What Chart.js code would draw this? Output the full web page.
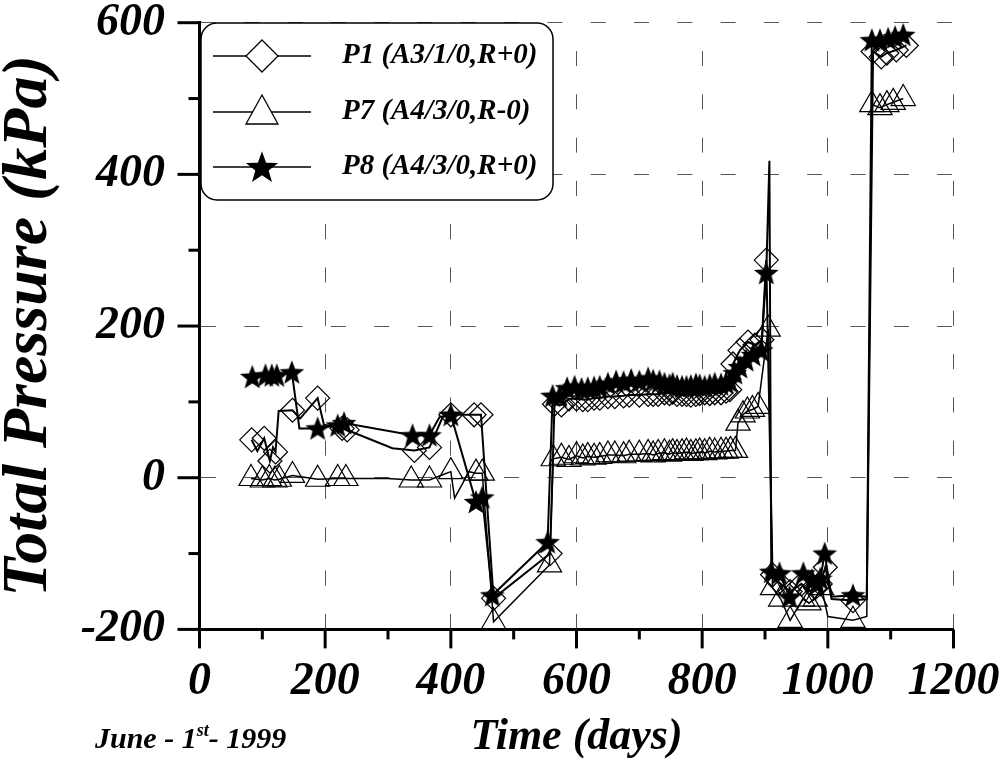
<!DOCTYPE html>
<html><head><meta charset="utf-8">
<script src="https://cdn.jsdelivr.net/npm/chart.js@4.4.0/dist/chart.umd.min.js"></script>
<style>html,body{margin:0;padding:0;background:#fff;}#c{display:block;}</style>
</head><body>
<canvas id="c" width="1005" height="769"></canvas>
<script>
// ---- data (days since June 1st 1999, total pressure kPa) ----
const P1_days = [83,92,103,112,117,121,126,148,160,188,198,227,235,307,342,366,387,400,437,448,468,558,565,576,588,600,610,618,628,637,650,661,675,684,700,714,722,730,740,748,753,760,768,775,782,790,796,804,812,820,830,838,844,849,860,873,884,895,902,912,922,940,958,970,980,988,996,1006,1040,1062,1072,1085,1094,1109,1125];
const P1_kpa  = [50,35,52,22,40,34,88,89,78,105,70,65,63,39,36,40,80,83,83,83,-159,-100,97,96,104,104,103,103,105,105,107,107,108,109,109,110,110,110,112,111,113,110,110,110,109,110,111,112,111,112,112,114,116,150,168,179,175,182,287,-128,-138,-150,-140,-150,-145,-140,-118,-160,-162,-160,562,555,560,564,570];
const P1_noMarker = [1,4,6,8,10,13,16,67,69];

const P7_days = [82,100,111,120,127,148,188,220,233,300,337,366,390,400,406,429,440,450,468,557,563,576,588,600,610,618,628,637,650,661,675,684,700,714,722,730,740,748,753,760,768,775,782,790,796,804,812,820,830,838,845,853,857,865,872,880,889,905,912,925,940,960,970,980,990,1000,1040,1062,1070,1083,1094,1104,1120];
const P7_kpa  = [-1,-3,-1,-3,-2,3,-2,-1,-1,-1,-3,-3,5,8,-27,8,6,6,-190,-115,25,27,24,29,26,28,27,28,30,30,29,31,31,32,30,32,33,31,33,32,33,34,32,33,34,33,35,34,35,35,36,36,72,83,88,90,94,196,-145,-160,-188,-160,-165,-160,-145,-183,-188,-183,492,488,492,495,500];
const P7_noMarker = [9,12,14,15,65,67];

const P8_days = [84,105,115,123,147,159,188,220,230,339,366,382,400,440,450,466,554,562,573,585,597,608,618,628,637,650,663,675,687,700,714,722,732,740,748,753,760,768,775,782,790,796,804,812,820,830,838,844,852,860,870,881,894,902,907,910,923,939,961,975,983,988,995,1006,1040,1062,1070,1083,1096,1107,1120];
const P8_kpa  = [133,135,135,135,139,65,65,69,72,56,56,80,83,-32,-26,-155,-85,108,107,118,120,117,118,119,120,124,127,126,129,127,131,128,127,124,122,124,121,120,120,121,123,122,120,122,124,123,125,127,138,146,155,162,168,270,418,-124,-126,-157,-126,-135,-140,-133,-100,-157,-155,-157,577,577,579,581,584];
const P8_noMarker = [5,11,54,63,65];

const seriesLabels = ['P1 (A3/1/0,R+0)','P7 (A4/3/0,R-0)','P8 (A4/3/0,R+0)'];
const xTitle = 'Time (days)';
const yTitle = 'Total Pressure (kPa)';
const xTicksStep = 200, yTicksStep = 200;

const FONT = "'Liberation Serif','Times New Roman',serif";

function makeStar(R, r) {
  const s = Math.ceil(R * 2 + 2);
  const c = document.createElement('canvas');
  c.width = s; c.height = s;
  const g = c.getContext('2d');
  g.translate(s / 2, s / 2 + R * 0.08);
  g.beginPath();
  for (let i = 0; i < 10; i++) {
    const rad = i % 2 ? r : R;
    const a = -Math.PI / 2 + i * Math.PI / 5;
    g.lineTo(rad * Math.cos(a), rad * Math.sin(a));
  }
  g.closePath();
  g.fillStyle = '#000';
  g.fill();
  return c;
}
const starImg = makeStar(13, 5.5);

function ds(label, days, kpa, noMarker, style, radius, lw) {
  return {
    label,
    data: days.map((d, i) => ({x: d, y: kpa[i]})),
    borderColor: '#000',
    borderWidth: lw,
    pointStyle: style,
    pointRadius: c => noMarker.includes(c.dataIndex) ? 0 : radius,
    pointHoverRadius: 0,
    pointBorderColor: '#000',
    pointBackgroundColor: 'rgba(255,255,255,0)',
    pointBorderWidth: 1.2,
    tension: 0,
    fill: false,
    clip: false
  };
}

const decor = {
  id: 'decor',
  afterDraw(chart) {
    const g = chart.ctx, a = chart.chartArea;
    const xs = chart.scales.x, ys = chart.scales.y;
    g.save();
    g.strokeStyle = '#000';
    g.lineWidth = 3;
    g.lineCap = 'butt';
    // tick marks (major every 200, minor every 100), outward
    for (let v = xs.min; v <= xs.max; v += xTicksStep / 2) {
      const px = xs.getPixelForValue(v);
      const len = (v % xTicksStep === 0) ? 19 : 10;
      g.beginPath(); g.moveTo(px, a.bottom); g.lineTo(px, a.bottom + len); g.stroke();
    }
    for (let v = ys.min; v <= ys.max; v += yTicksStep / 2) {
      const py = ys.getPixelForValue(v);
      const len = ((v - ys.min) % yTicksStep === 0) ? 22 : 11;
      g.beginPath(); g.moveTo(a.left, py); g.lineTo(a.left - len, py); g.stroke();
    }
    // legend box
    const bx = 201, by = 23, bw = 352, bh = 177, r = 16;
    g.beginPath();
    g.moveTo(bx + r, by); g.lineTo(bx + bw - r, by); g.arcTo(bx + bw, by, bx + bw, by + r, r);
    g.lineTo(bx + bw, by + bh - r); g.arcTo(bx + bw, by + bh, bx + bw - r, by + bh, r);
    g.lineTo(bx + r, by + bh); g.arcTo(bx, by + bh, bx, by + bh - r, r);
    g.lineTo(bx, by + r); g.arcTo(bx, by, bx + r, by, r);
    g.closePath();
    g.fillStyle = '#fff'; g.fill();
    g.lineWidth = 1.5; g.stroke();
    const rows = [56, 112, 167];
    const cx = 262;
    rows.forEach((y, i) => {
      g.lineWidth = 1.6; g.strokeStyle = '#000';
      g.beginPath(); g.moveTo(213, y); g.lineTo(311, y); g.stroke();
      g.lineWidth = 1.3;
      if (i === 0) {
        g.beginPath(); g.moveTo(cx, y - 16); g.lineTo(cx + 16, y); g.lineTo(cx, y + 16); g.lineTo(cx - 16, y); g.closePath();
        g.fillStyle = '#fff'; g.fill(); g.stroke();
      } else if (i === 1) {
        g.beginPath(); g.moveTo(cx, y - 17); g.lineTo(cx + 16, y + 12); g.lineTo(cx - 16, y + 12); g.closePath();
        g.fillStyle = '#fff'; g.fill(); g.stroke();
      } else {
        const st = makeStar(17, 7);
        g.drawImage(st, cx - st.width / 2, y - st.height / 2);
      }
      g.fillStyle = '#000';
      g.font = 'italic bold 29px ' + FONT;
      g.textAlign = 'left'; g.textBaseline = 'middle';
      g.fillText(seriesLabels[i], 342, y);
    });
    // start date note
    g.fillStyle = '#000';
    g.textBaseline = 'alphabetic'; g.textAlign = 'left';
    g.font = 'italic bold 30px ' + FONT;
    let x = 95; const base = 748;
    const t1 = 'June - 1';
    g.fillText(t1, x, base); x += g.measureText(t1).width;
    g.font = 'italic bold 18px ' + FONT;
    g.fillText('st', x, base - 12); x += g.measureText('st').width;
    g.font = 'italic bold 30px ' + FONT;
    g.fillText('- 1999', x, base);
    g.restore();
  }
};

const tickFont = {family: FONT, size: 46, weight: 'bold', style: 'italic', lineHeight: 1};

new Chart(document.getElementById('c'), {
  type: 'line',
  data: {
    datasets: [
      ds(seriesLabels[2], P8_days, P8_kpa, P8_noMarker, starImg, 13, 2),
      ds(seriesLabels[0], P1_days, P1_kpa, P1_noMarker, 'rectRot', 12, 2),
      ds(seriesLabels[1], P7_days, P7_kpa, P7_noMarker, 'triangle', 14, 1.5)
    ]
  },
  options: {
    responsive: false,
    animation: false,
    events: [],
    layout: {padding: {left: 0, top: 22.7, right: 51.5, bottom: 0}},
    plugins: {legend: {display: false}, tooltip: {enabled: false}},
    scales: {
      x: {
        type: 'linear', min: 0, max: 1200, position: 'bottom',
        ticks: {stepSize: xTicksStep, autoSkip: false, maxRotation: 0, minRotation: 0, padding: 30, color: '#000', font: tickFont, callback: v => String(v)},
        grid: {drawTicks: false, lineWidth: 1, color: c => (c.tick && c.tick.value === 0) ? 'rgba(0,0,0,0)' : '#555'},
        border: {display: true, color: '#000', width: 3, dash: [15, 28.3], dashOffset: 15},
        title: {display: true, text: xTitle, color: '#000', font: {family: FONT, size: 44, weight: 'bold', style: 'italic', lineHeight: 1}, padding: {top: 0, bottom: 9}},
        afterFit: s => { s.height = 139.6; s.paddingLeft = 0; s.paddingRight = 0; }
      },
      y: {
        type: 'linear', min: -200, max: 600, position: 'left',
        ticks: {stepSize: yTicksStep, padding: 34.5, color: '#000', font: tickFont, callback: v => String(v)},
        grid: {drawTicks: false, lineWidth: 1, color: c => (c.tick && c.tick.value === -200) ? 'rgba(0,0,0,0)' : '#555'},
        border: {display: true, color: '#000', width: 3, dash: [15, 28.3], dashOffset: 0},
        title: {display: true, text: yTitle, color: '#000', font: {family: FONT, size: 64, weight: 'bold', style: 'italic', lineHeight: 1}, padding: {top: -3, bottom: 0}},
        afterFit: s => { s.width = 199.5; s.paddingTop = 0; s.paddingBottom = 0; }
      }
    }
  },
  plugins: [decor]
});
</script>
</body></html>
